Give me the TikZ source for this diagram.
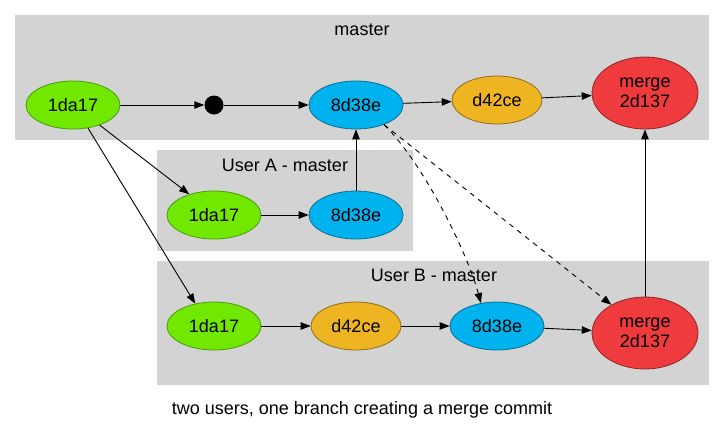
\documentclass[tikz,border=0pt]{standalone}
\usepackage{fontspec}
\setmainfont{Liberation Sans}
\usetikzlibrary{arrows.meta,shapes.geometric}
\definecolor{clusterfill}{HTML}{D3D3D3}
\definecolor{gfill}{HTML}{70E800}
\definecolor{gline}{HTML}{4E9A10}
\definecolor{bfill}{HTML}{00B2EE}
\definecolor{bline}{HTML}{0E6E8E}
\definecolor{ofill}{HTML}{EEB422}
\definecolor{oline}{HTML}{8E6E1E}
\definecolor{rfill}{HTML}{EF3B3D}
\definecolor{rline}{HTML}{8E2828}
\begin{document}
\begin{tikzpicture}[x=1pt,y=-1pt,
  lbl/.style={font=\fontsize{18}{21}\selectfont, inner sep=0pt},
  commit/.style={ellipse, draw, line width=0.8pt, minimum width=94pt, minimum height=48pt, inner sep=0pt, font=\fontsize{18}{20}\selectfont},
  green/.style={commit, fill=gfill, draw=gline},
  blue/.style={commit, fill=bfill, draw=bline},
  orange/.style={commit, fill=ofill, draw=oline, minimum width=90pt},
  red/.style={commit, fill=rfill, draw=rline, minimum width=106pt, minimum height=72pt, align=center, font=\fontsize{18}{20}\selectfont},
  cluster/.style={fill=clusterfill, draw=none},
  edge/.style={draw=black, line width=0.9pt, -{Triangle[length=10pt,width=7.5pt]}},
  dedge/.style={edge, dash pattern=on 5pt off 5pt}
]
\useasboundingbox (0,0) rectangle (725,432);
% clusters
\fill[cluster] (15,15) rectangle (709,140);
\fill[cluster] (157,150) rectangle (413,251);
\fill[cluster] (157,261) rectangle (709,385);
\node[lbl] (tm) at (362,30) {master};
\node[lbl] (ta) at (285,165) {User A - master};
\node[lbl] (tb) at (434,275) {User B - master};
\node[lbl] (cap) at (362,410) {two users, one branch creating a merge commit};
% master
\node[green] (m1) at (73,105) {1da17};
\node[circle, fill=black, minimum size=19pt, inner sep=0pt] (dot) at (214,105) {};
\node[blue] (m8) at (356,105) {8d38e};
\node[orange] (md) at (497,100) {d42ce};
\node[red] (mm) at (645,93) {merge\\2d137};
% user A
\node[green] (a1) at (214,215) {1da17};
\node[blue] (a8) at (356,215) {8d38e};
% user B
\node[green] (b1) at (214,326) {1da17};
\node[orange] (bd) at (356,326) {d42ce};
\node[blue] (b8) at (497,326) {8d38e};
\node[red] (bm) at (645,333) {merge\\2d137};
% edges
\draw[edge] (m1) -- (dot);
\draw[edge] (dot) -- (m8);
\draw[edge] (m8) -- (md);
\draw[edge] (md) -- (mm);
\draw[edge] (m1.-37) -- (a1.140);
\draw[edge] (m1.-57) -- (b1.130);
\draw[edge] (a1) -- (a8);
\draw[edge] (a8.north) -- (m8.south);
\draw[edge] (b1) -- (bd);
\draw[edge] (bd) -- (b8);
\draw[edge] (b8) -- (bm);
\draw[edge] (bm.north) -- (mm.south);
\draw[dedge] (m8.-35) .. controls (425,165) and (468,255) .. (b8.125);
\draw[dedge] (m8.-35) -- (bm.140);
\end{tikzpicture}
\end{document}
